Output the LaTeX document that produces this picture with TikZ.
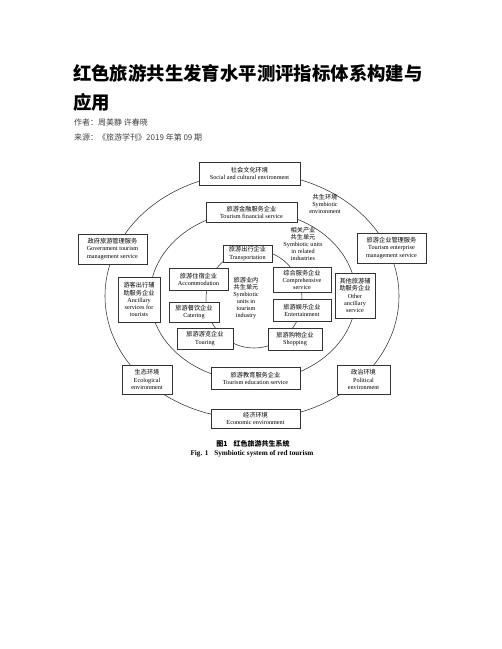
\documentclass[tikz,border=0pt]{standalone}
\usepackage{fontspec}
\setmainfont{Liberation Serif}
\newfontfamily\cjk{Noto Sans CJK SC}
\newcommand\dfont{\fontsize{6.2}{7.1}\selectfont}
\begin{document}
\begin{tikzpicture}[x=1pt,y=-1pt,
  ring/.style={draw=black!80, line width=0.55pt},
  box/.style={draw=black!80, line width=0.7pt, fill=white, inner sep=0.5pt, align=center, font=\dfont},
  lbl/.style={inner sep=0pt, align=center, font=\dfont},
  title/.style={inner sep=0pt, anchor=west, font=\cjk\bfseries\fontsize{18.4}{20}\selectfont},
  meta/.style={inner sep=0pt, anchor=west, text=black!75, font=\cjk\fontsize{8}{9}\selectfont}]
\useasboundingbox (0,0) rectangle (502,649);
\fill[white] (0,0) rectangle (502,649);
% title and meta
\node[title] (t1) at (73,73) {红色旅游共生发育水平测评指标体系构建与};
\node[title] (t2) at (73,102) {应用};
\node[meta] (au) at (74,122) {作者：周美静 许春晓};
\node[meta] (src) at (74,137) {来源：《旅游学刊》2019 年第 09 期};
% rings
\draw[ring] (252,296) ellipse [x radius=147, y radius=123];
\draw[ring] (253,296) ellipse [x radius=103, y radius=85];
\draw[ring] (254,299) ellipse [x radius=48, y radius=49];
% outer ring boxes
\node[box, minimum width=101, minimum height=23] (soc) at (249.5,173.5) {{\cjk 社会文化环境}\\Social and cultural environment};
\node[box, minimum width=69, minimum height=30] (gov) at (112.5,249) {{\cjk 政府旅游管理服务}\\Government tourism\\management service};
\node[box, minimum width=69, minimum height=30] (ent) at (391.5,248) {{\cjk 旅游企业管理服务}\\Tourism enterprise\\management service};
\node[box, minimum width=50, minimum height=29] (eco) at (147,379.5) {{\cjk 生态环境}\\Ecological\\environment};
\node[box, minimum width=53, minimum height=29] (pol) at (363.5,379.5) {{\cjk 政治环境}\\Political\\environment};
\node[box, minimum width=89, minimum height=19] (econ) at (255.5,418.5) {{\cjk 经济环境}\\Economic environment};
% middle ring boxes
\node[box, minimum width=91, minimum height=20] (fin) at (251.5,212) {{\cjk 旅游金融服务企业}\\Tourism financial service};
\node[box, minimum width=89, minimum height=22] (edu) at (255.5,378) {{\cjk 旅游教育服务企业}\\Tourism education service};
\node[box, minimum width=42, minimum height=45] (anc) at (139,299.5) {{\cjk 游客出行辅}\\{\cjk 助服务企业}\\Ancillary\\services for\\tourists};
\node[box, minimum width=40, minimum height=45] (oth) at (355,295.5) {{\cjk 其他旅游辅}\\{\cjk 助服务企业}\\Other\\ancillary\\service};
% inner ring boxes
\node[box, minimum width=49, minimum height=17] (tra) at (247.5,253.5) {{\cjk 旅游出行企业}\\Transportation};
\node[box, minimum width=59, minimum height=22] (acc) at (198.5,279) {{\cjk 旅游住宿企业}\\Accommodation};
\node[box, minimum width=50, minimum height=20] (cat) at (194,312) {{\cjk 旅游餐饮企业}\\Catering};
\node[box, minimum width=56, minimum height=21] (tou) at (205,338.5) {{\cjk 旅游游览企业}\\Touring};
\node[box, minimum width=54, minimum height=22] (sho) at (295,339) {{\cjk 旅游购物企业}\\Shopping};
\node[box, minimum width=58, minimum height=22] (etm) at (302,310) {{\cjk 旅游娱乐企业}\\Entertainment};
\node[box, minimum width=58, minimum height=25] (com) at (302,279.5) {{\cjk 综合服务企业}\\Comprehensive\\service};
% free labels
\node[lbl] (senv) at (325,204) {{\cjk 共生环境}\\Symbiotic\\environment};
\node[lbl] (rel) at (303,244) {{\cjk 相关产业}\\{\cjk 共生单元}\\Symbiotic units\\in related\\industries};
\node[lbl] (inn) at (246,298) {{\cjk 旅游业内}\\{\cjk 共生单元}\\Symbiotic\\units in\\tourism\\industry};
% captions
\node[inner sep=0pt, font=\cjk\bfseries\fontsize{7}{8}\selectfont] (cap1) at (253,444) {图1\hspace{6pt}红色旅游共生系统};
\node[inner sep=0pt, font=\bfseries\fontsize{7.2}{8}\selectfont] (cap2) at (252,454) {Fig. 1\hspace{6pt}Symbiotic system of red tourism};
\end{tikzpicture}
\end{document}
